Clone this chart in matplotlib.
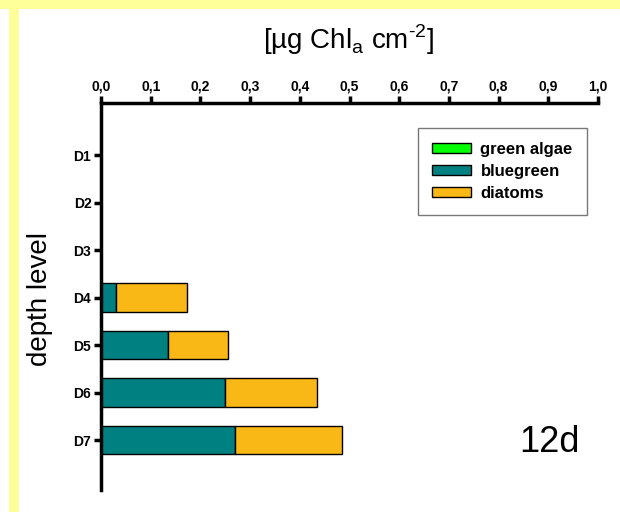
import numpy as np
import matplotlib
matplotlib.use("Agg")
import matplotlib.pyplot as plt
from matplotlib.patches import Patch, Rectangle

plt.rcParams['font.family'] = ['Liberation Sans', 'DejaVu Sans']
plt.rcParams['mathtext.fontset'] = 'custom'
plt.rcParams['mathtext.rm'] = 'Liberation Sans'

depths = ["D1", "D2", "D3", "D4", "D5", "D6", "D7"]
green_algae = [0, 0, 0, 0, 0, 0, 0]
bluegreen = [0, 0, 0, 0.03, 0.135, 0.25, 0.27]
diatoms = [0, 0, 0, 0.143, 0.121, 0.185, 0.215]
xticks = [0.0, 0.1, 0.2, 0.3, 0.4, 0.5, 0.6, 0.7, 0.8, 0.9, 1.0]
xtick_labels = ["0,0", "0,1", "0,2", "0,3", "0,4", "0,5", "0,6", "0,7", "0,8", "0,9", "1,0"]

c_green = "#00ff00"
c_blue = "#008080"
c_diat = "#f9b815"

W, H = 620, 512
fig = plt.figure(figsize=(W / 100, H / 100), dpi=100)
fig.patch.set_facecolor("white")

# yellow frame strips
fig.add_artist(Rectangle((0, 1 - 9 / H), 1, 9 / H, transform=fig.transFigure,
                         facecolor="#ffff99", edgecolor="none"))
fig.add_artist(Rectangle((9 / W, 0), 10 / W, 1 - 9 / H, transform=fig.transFigure,
                         facecolor="#ffff99", edgecolor="none"))

ax = fig.add_axes([101 / W, 1 - 490 / H, 497 / W, 387 / H])

y = np.arange(1, len(depths) + 1)
g = np.array(green_algae)
b = np.array(bluegreen)
d = np.array(diatoms)
ax.barh(y, g, height=0.6, color=c_green, edgecolor="black", linewidth=1)
ax.barh(y, b, left=g, height=0.6, color=c_blue, edgecolor="black", linewidth=1)
ax.barh(y, d, left=g + b, height=0.6, color=c_diat, edgecolor="black", linewidth=1)

ax.set_xlim(0, 1.0)
ax.set_ylim(8.05, -0.095)
ax.set_xticks(xticks)
ax.set_xticklabels(xtick_labels, fontsize=10, fontweight="bold")
ax.set_yticks(y)
ax.set_yticklabels(depths, fontsize=10, fontweight="bold")
ax.xaxis.tick_top()
ax.tick_params(axis="both", direction="out", length=5, width=2.5, pad=2)

for s in ["right", "bottom"]:
    ax.spines[s].set_visible(False)
for s in ["left", "top"]:
    ax.spines[s].set_linewidth(2.5)

handles = [Patch(facecolor=c_green, edgecolor="black", label="green algae"),
           Patch(facecolor=c_blue, edgecolor="black", label="bluegreen"),
           Patch(facecolor=c_diat, edgecolor="black", label="diatoms")]
leg = fig.legend(handles=handles, loc="upper left",
                 bbox_to_anchor=(418 / W, 1 - 128 / H), borderaxespad=0,
                 prop={"weight": "bold", "size": 12}, fancybox=False,
                 handlelength=2.3, handleheight=0.55, labelspacing=0.42,
                 borderpad=0.85, handletextpad=0.6)
leg.get_frame().set_edgecolor("#555555")
leg.get_frame().set_linewidth(1)

fig.text(0.562, 1 - 40 / H, r"[µg Chl$_{\mathregular{a}}$ cm$^{\text{-2}}$]",
         fontsize=20, ha="center", va="center")
fig.text(40 / W, 1 - 299 / H, "depth level", fontsize=20, rotation=90,
         ha="center", va="center")
fig.text(549 / W, 1 - 443 / H, "12d", fontsize=26, ha="center", va="center")

fig.savefig("out.png", dpi=100)
